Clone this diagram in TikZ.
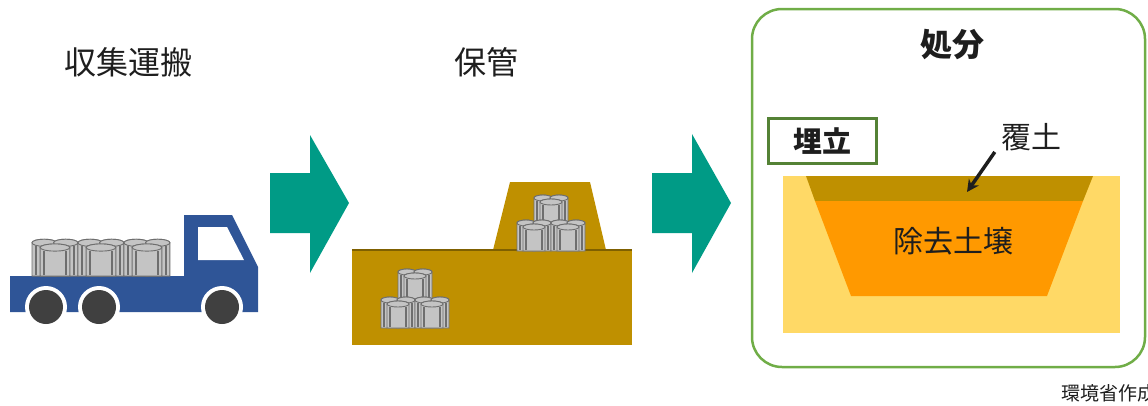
\documentclass[tikz,border=0pt]{standalone}
\usepackage{fontspec}
\setmainfont{Noto Sans CJK JP}
\usetikzlibrary{arrows.meta}
\definecolor{teal1}{HTML}{009B86}
\definecolor{truckblue}{HTML}{2F5597}
\definecolor{wheelgray}{HTML}{404040}
\definecolor{soil}{HTML}{BF9000}
\definecolor{soilline}{HTML}{7F6000}
\definecolor{sand}{HTML}{FFD966}
\definecolor{orangesoil}{HTML}{FF9900}
\definecolor{framegreen}{HTML}{70AD47}
\definecolor{darkgreen}{HTML}{548235}
\definecolor{ink}{HTML}{1E1E1E}
\definecolor{drumfill}{HTML}{C4C4C4}
\definecolor{drumedge}{HTML}{6E6E6E}
\tikzset{
  flowarrow/.style={fill=teal1, draw=none},
  label32/.style={text=ink, font=\fontsize{32}{36}\selectfont, inner sep=0pt},
  label30/.style={text=ink, font=\fontsize{30}{34}\selectfont, inner sep=0pt},
  drumpart/.style={fill=drumfill, draw=drumedge, line width=0.9pt},
  pics/drum/.style={code={
    % two rear cylinders
    \path[drumpart] (0,4) -- (0,32) -- (18,32) -- (18,4) arc[start angle=0, end angle=-180, x radius=9, y radius=3] -- cycle;
    \path[drumpart] (9,4) ellipse[x radius=9, y radius=3];
    \path[drumpart] (16,4) -- (16,32) -- (34,32) -- (34,4) arc[start angle=0, end angle=-180, x radius=9, y radius=3] -- cycle;
    \path[drumpart] (25,4) ellipse[x radius=9, y radius=3];
    % front cylinder
    \path[drumpart] (6,8) -- (6,32) -- (28,32) -- (28,8) arc[start angle=0, end angle=-180, x radius=11, y radius=3] -- cycle;
    \path[drumpart] (17,8) ellipse[x radius=11, y radius=3];
    \draw[drumedge, line width=1.6pt] (3,7) -- (3,31) (31,7) -- (31,31) (9,11) -- (9,31) (25,11) -- (25,31);
  }}
}
\begin{document}
\begin{tikzpicture}[x=1pt, y=-1pt]
\useasboundingbox (0,0) rectangle (1148,405);
\clip (0,0) rectangle (1148,405);

% ---- stage titles
\node[label32] (tCollect) at (128,62) {収集運搬};
\node[label32] (tStore) at (486,62) {保管};

% ---- flow arrows
\path[flowarrow] (270,173) -- (310,173) -- (310,135) -- (349,203) -- (310,273) -- (310,233) -- (270,233) -- cycle;
\path[flowarrow] (652,173) -- (692,173) -- (692,134) -- (731,203) -- (692,273) -- (692,233) -- (652,233) -- cycle;

% ---- truck
\path[fill=truckblue] (10,276) -- (184,276) -- (184,215) -- (232,215) -- (258,267) -- (258,312) -- (10,312) -- cycle;
\path[fill=white] (198,227) -- (227,227) -- (244,260) -- (198,260) -- cycle;
\foreach \wx in {46, 99, 222} {
  \path[fill=white] (\wx,307) circle[radius=21];
  \path[fill=wheelgray] (\wx,307) circle[radius=17];
}
\foreach \dx in {32,78,124} {
  \pic[xscale=1.35, yscale=1.19] at (\dx,238) {drum};
}

% ---- temporary storage
\path[fill=soil] (493,250) -- (510,182) -- (590,182) -- (606,250) -- cycle;
\path[fill=soil] (352,250) rectangle (632,345);
\draw[soilline, line width=2pt] (352,250) -- (632,250);
\pic at (534,194) {drum};
\pic at (517,219) {drum};
\pic at (551,219) {drum};
\pic at (398,268) {drum};
\pic at (381,296) {drum};
\pic at (415,296) {drum};

% ---- disposal
\draw[framegreen, line width=2.5pt, rounded corners=30pt] (752,9) rectangle (1145,367);
\node[label32, font=\fontsize{32}{36}\selectfont\bfseries] (tDisp) at (952,45) {処分};
\node[draw=darkgreen, line width=3pt, minimum width=108pt, minimum height=45pt, inner sep=0pt,
      text=ink, font=\fontsize{29}{33}\selectfont\bfseries] (landfill) at (822,141) {埋立};
\path[fill=sand] (783,176) rectangle (1120,333);
\path[fill=soil] (806,176) -- (1093,176) -- (1083,201) -- (815,201) -- cycle;
\path[fill=orangesoil] (815,201) -- (1083,201) -- (1047,296) -- (851,296) -- cycle;
\node[label30] (removed) at (953,241) {除去土壌};
\node[label30] (cover) at (1031,137) {覆土};
\coordinate (coverTip) at (967,192);
\draw[ink, line width=3.5pt, -{Stealth[length=12pt, width=12pt]}] (cover.south west) ++(-6,1) -- (coverTip);

% ---- credit
\node[text=ink, font=\fontsize{19}{22}\selectfont, inner sep=0pt, anchor=west] (credit) at (1061,393) {環境省作成};
\end{tikzpicture}
\end{document}
